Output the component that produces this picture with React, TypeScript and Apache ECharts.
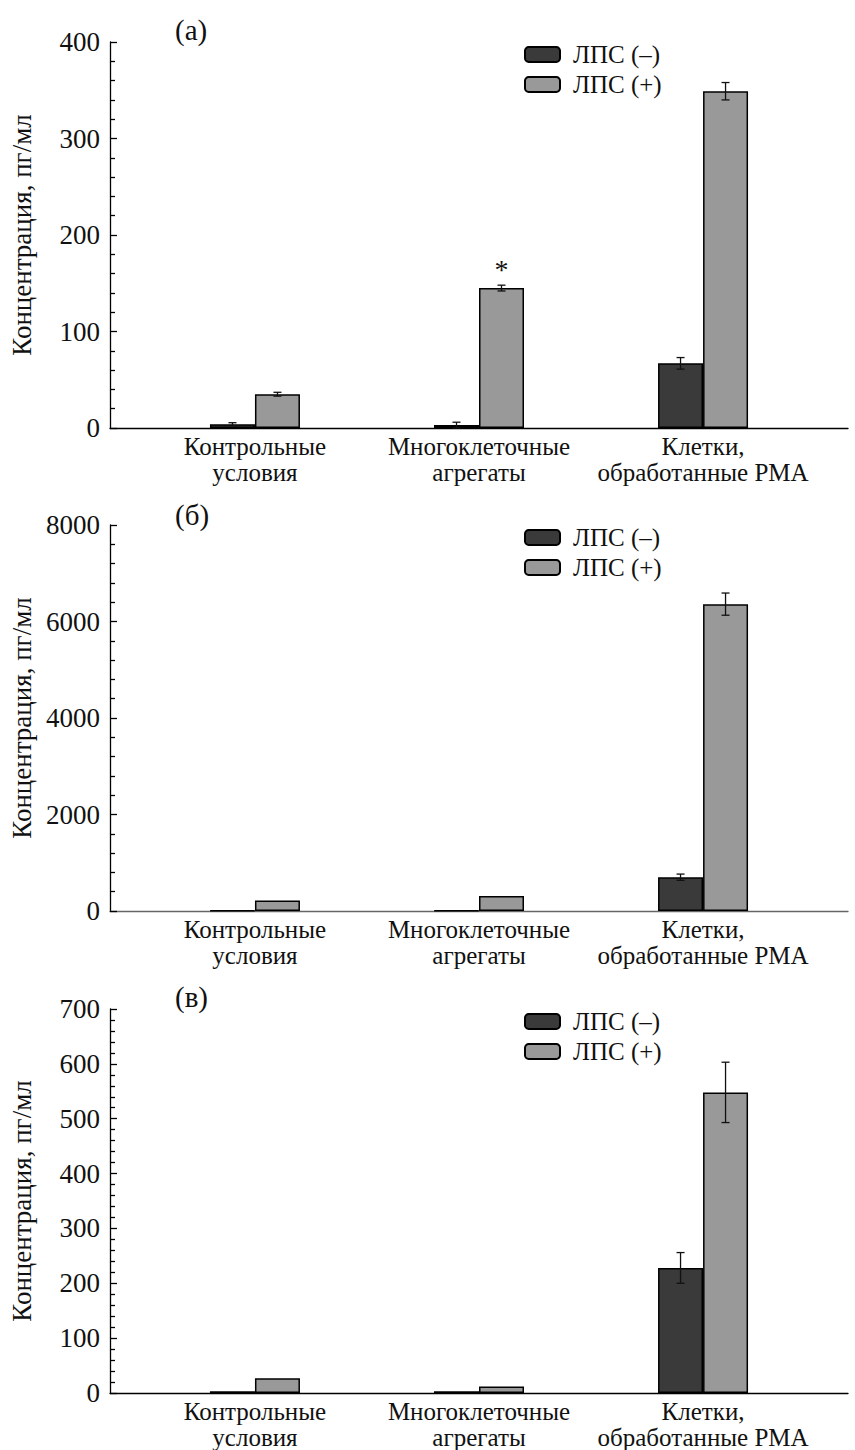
import React, { useEffect, useRef } from "react";
import * as echarts from "echarts";

const categories = ["Контрольные\nусловия", "Многоклеточные\nагрегаты", "Клетки,\nобработанные PMA"];
const categoryPositions = [1, 2, 3];
const seriesNames = ["ЛПС (–)", "ЛПС (+)"];
const panelLabels = ["(a)", "(б)", "(в)"];
const yAxisName = "Концентрация, пг/мл";

// Panel (a)
const aNeg = [4, 3, 67];
const aNegErr = [1.5, 3, 6];
const aPos = [35, 145, 349];
const aPosErr = [2, 3, 9];
// Panel (б)
const bNeg = [8, 8, 700];
const bNegErr = [0, 0, 65];
const bPos = [220, 310, 6360];
const bPosErr = [0, 0, 230];
// Panel (в)
const cNeg = [3, 3, 228];
const cNegErr = [0, 0, 28];
const cPos = [27, 12, 548];
const cPosErr = [0, 0, 55];

const yMax = [400, 8000, 700];
const yInterval = [100, 2000, 100];

const FONT = "Times New Roman";
const DARK = "#3a3a3a";
const LIGHT = "#999999";
const BAR_W = 45;

const panels = [
  { neg: aNeg, negErr: aNegErr, pos: aPos, posErr: aPosErr, top: 42, height: 386, axisColor: "#000" },
  { neg: bNeg, negErr: bNegErr, pos: bPos, posErr: bPosErr, top: 525, height: 386, axisColor: "#666" },
  { neg: cNeg, negErr: cNegErr, pos: cPos, posErr: cPosErr, top: 1009, height: 385, axisColor: "#000" },
];

function errorRender(offset: number) {
  return (params: any, api: any) => {
    const x = api.value(0);
    const y = api.value(1);
    const e = api.value(2);
    if (!e) return null;
    const t = api.coord([x, y + e]);
    const b = api.coord([x, y - e]);
    const cx = t[0] + offset;
    const style = { stroke: "#111", lineWidth: 1.3 };
    return {
      type: "group",
      children: [
        { type: "line", shape: { x1: cx, y1: t[1], x2: cx, y2: b[1] }, style },
        { type: "line", shape: { x1: cx - 4, y1: t[1], x2: cx + 4, y2: t[1] }, style },
        { type: "line", shape: { x1: cx - 4, y1: b[1], x2: cx + 4, y2: b[1] }, style },
      ],
    };
  };
}

export default function App() {
  const ref = useRef<HTMLDivElement>(null);
  useEffect(() => {
    if (!ref.current) return;
    const chart = echarts.init(ref.current, null, { renderer: "svg" });
    const grid: any[] = [];
    const xAxis: any[] = [];
    const yAxis: any[] = [];
    const legend: any[] = [];
    const series: any[] = [];
    const graphic: any[] = [];
    const labelTops = [15, 500, 982];
    const legendTops = [42, 525, 1009];

    panels.forEach((p, i) => {
      grid.push({ left: 110, right: 7, top: p.top, height: p.height });
      xAxis.push({
        type: "value",
        gridIndex: i,
        min: 0.353,
        max: 3.647,
        splitLine: { show: false },
        axisTick: { show: false },
        axisLine: { show: true, onZero: false, lineStyle: { color: p.axisColor, width: 1.3 } },
        axisLabel: {
          customValues: categoryPositions,
          formatter: (v: number) => categories[categoryPositions.indexOf(Math.round(v))] ?? "",
          fontFamily: FONT,
          fontSize: 25,
          color: "#111",
          lineHeight: 26,
          margin: 5,
        },
      });
      yAxis.push({
        type: "value",
        gridIndex: i,
        min: 0,
        max: yMax[i],
        interval: yInterval[i],
        name: yAxisName,
        nameLocation: "middle",
        nameRotate: 90,
        nameGap: 75,
        nameTextStyle: { fontFamily: FONT, fontSize: 27, color: "#111" },
        splitLine: { show: false },
        axisLine: { show: true, lineStyle: { color: "#000", width: 1.3 } },
        axisTick: { show: true, inside: true, length: 7, lineStyle: { color: "#000", width: 1.3 } },
        minorTick: { show: true, splitNumber: 5, length: 5, lineStyle: { color: "#000", width: 1.3 } },
        axisLabel: { fontFamily: FONT, fontSize: 27, color: "#111", margin: 10, formatter: (v: number) => String(v) },
      });
      legend.push({
        data: seriesNames,
        orient: "vertical",
        left: 524,
        top: legendTops[i],
        padding: 0,
        itemWidth: 35,
        itemHeight: 15,
        itemGap: 5,
        selectedMode: false,
        textStyle: { fontFamily: FONT, fontSize: 25, color: "#111", padding: [0, 0, 0, 8] },
      });
      const neg = p.neg.map((v, k) => [categoryPositions[k], v]);
      const pos = p.pos.map((v, k) => {
        if (i === 0 && k === 1) {
          return {
            value: [categoryPositions[k], v],
            label: { show: true, formatter: "*", position: "top", distance: 5, fontFamily: FONT, fontSize: 28, color: "#111" },
          };
        }
        return [categoryPositions[k], v];
      });
      series.push({
        type: "bar",
        name: seriesNames[0],
        xAxisIndex: i,
        yAxisIndex: i,
        barWidth: BAR_W,
        barGap: "0%",
        data: neg,
        itemStyle: { color: DARK, borderColor: "#000", borderWidth: 1.5 },
      });
      series.push({
        type: "bar",
        name: seriesNames[1],
        xAxisIndex: i,
        yAxisIndex: i,
        barWidth: BAR_W,
        barGap: "0%",
        data: pos,
        itemStyle: { color: LIGHT, borderColor: "#000", borderWidth: 1.5 },
      });
      series.push({
        type: "custom",
        name: "err-neg-" + i,
        xAxisIndex: i,
        yAxisIndex: i,
        z: 5,
        renderItem: errorRender(-BAR_W / 2),
        data: p.neg.map((v, k) => [categoryPositions[k], v, p.negErr[k]]),
      });
      series.push({
        type: "custom",
        name: "err-pos-" + i,
        xAxisIndex: i,
        yAxisIndex: i,
        z: 5,
        renderItem: errorRender(BAR_W / 2),
        data: p.pos.map((v, k) => [categoryPositions[k], v, p.posErr[k]]),
      });
      graphic.push({
        type: "text",
        left: 175,
        top: labelTops[i],
        style: { text: panelLabels[i], fontFamily: FONT, fontSize: 29, fill: "#111" },
      });
    });

    chart.setOption({
      animation: false,
      backgroundColor: "#fff",
      textStyle: { fontFamily: FONT },
      grid,
      xAxis,
      yAxis,
      legend,
      series,
      graphic,
    });
    return () => chart.dispose();
  }, []);
  return <div ref={ref} style={{ position: "absolute", left: 0, top: 0, width: 855, height: 1450 }} />;
}
